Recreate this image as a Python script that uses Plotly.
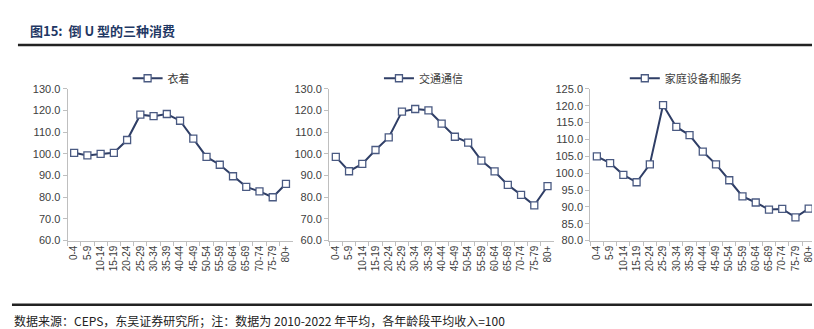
import plotly.graph_objects as go

ages = ["0-4", "5-9", "10-14", "15-19", "20-24", "25-29", "30-34", "35-39", "40-44",
        "45-49", "50-54", "55-59", "60-64", "65-69", "70-74", "75-79", "80+"]

clothing = [100.5, 99.3, 100.0, 100.5, 106.4, 118.1, 117.4, 118.4, 115.3,
            107.0, 98.6, 95.0, 89.7, 84.8, 82.7, 80.0, 86.2]
transport = [98.6, 92.0, 95.4, 101.8, 107.6, 119.5, 120.7, 120.1, 114.0,
             107.9, 105.2, 96.9, 91.9, 85.7, 81.1, 76.3, 85.1]
household = [105.0, 103.0, 99.5, 97.3, 102.6, 120.2, 113.7, 111.3, 106.4,
             102.6, 97.9, 93.1, 91.3, 89.2, 89.4, 86.9, 89.5]

names = ["衣着", "交通通信", "家庭设备和服务"]
series = [clothing, transport, household]
yranges = [[60, 130], [60, 130], [80, 125]]
ydticks = [10, 10, 5]

W, H = 814, 329
xdoms = [[67.7 / W, 293.3 / W], [330.0 / W, 555.5 / W], [591.7 / W, 1.0]]
xranges = [[-0.5, 16.5], [-0.5, 16.5], [-0.5, 16.25]]
ydom = [1 - 243.5 / H, 1 - 86.0 / H]
legend_x = [(140 + 183) / 2 / W, (392 + 457) / 2 / W, (638 + 737) / 2 / W]

LINE = "#2F3E66"
MARK = "#4A5A82"
AX = "#BFBFBF"
TXT = "#404040"

fig = go.Figure()
for i in range(3):
    sfx = "" if i == 0 else str(i + 1)
    fig.add_trace(go.Scatter(
        x=ages, y=series[i], name=names[i], mode="lines+markers",
        line=dict(color=LINE, width=2),
        marker=dict(symbol="square", size=7, color="white",
                    line=dict(color=MARK, width=1.3)),
        xaxis="x" + sfx, yaxis="y" + sfx,
        legend="legend" + sfx, showlegend=True,
    ))
    xa = dict(domain=xdoms[i], anchor="y" + sfx, type="category",
              range=xranges[i], showline=True, linecolor=AX, linewidth=1,
              ticks="outside", tickson="boundaries", ticklen=4, tickcolor=AX,
              tickangle=-90, tickfont=dict(family="Liberation Sans, Arial", size=10, color=TXT),
              showgrid=False, zeroline=False, fixedrange=True)
    ya = dict(domain=ydom, anchor="x" + sfx, range=yranges[i], dtick=ydticks[i],
              tickformat=".1f", showline=True, linecolor=AX, linewidth=1,
              ticks="outside", ticklen=4, tickcolor=AX,
              tickfont=dict(family="Liberation Sans, Arial", size=11, color=TXT),
              showgrid=False, zeroline=False, fixedrange=True)
    lg = dict(x=legend_x[i], y=1 - 75 / H, xanchor="center", yanchor="middle",
              orientation="h", bgcolor="rgba(0,0,0,0)",
              font=dict(family="Noto Sans CJK SC", size=11, color=TXT),
              itemwidth=30)
    fig.update_layout(**{"xaxis" + sfx: xa, "yaxis" + sfx: ya, "legend" + sfx: lg})

fig.add_annotation(text="<b>图15:  倒 U 型的三种消费</b>", xref="paper", yref="paper",
                   x=28 / W, y=1 - 25 / H, xanchor="left", yanchor="middle", showarrow=False,
                   font=dict(family="Noto Sans CJK SC", size=13, color="#1F3864"))
fig.add_annotation(text="数据来源：CEPS，东吴证券研究所；注：数据为 2010-2022 年平均，各年龄段平均收入=100",
                   xref="paper", yref="paper", x=12 / W, y=1 - 316 / H,
                   xanchor="left", yanchor="top", showarrow=False,
                   font=dict(family="Noto Sans CJK SC", size=12, color="#222222"))

fig.add_shape(type="line", xref="paper", yref="paper", x0=18 / W, x1=1.0,
              y0=1 - 40.5 / H, y1=1 - 40.5 / H, line=dict(color="#222222", width=2.5))
fig.add_shape(type="line", xref="paper", yref="paper", x0=12 / W, x1=1.0,
              y0=1 - 310 / H, y1=1 - 310 / H, line=dict(color="#222222", width=2.5))

fig.update_layout(width=W, height=H, margin=dict(l=0, r=0, t=0, b=0),
                  paper_bgcolor="white", plot_bgcolor="white")

fig.write_html("out.html")
